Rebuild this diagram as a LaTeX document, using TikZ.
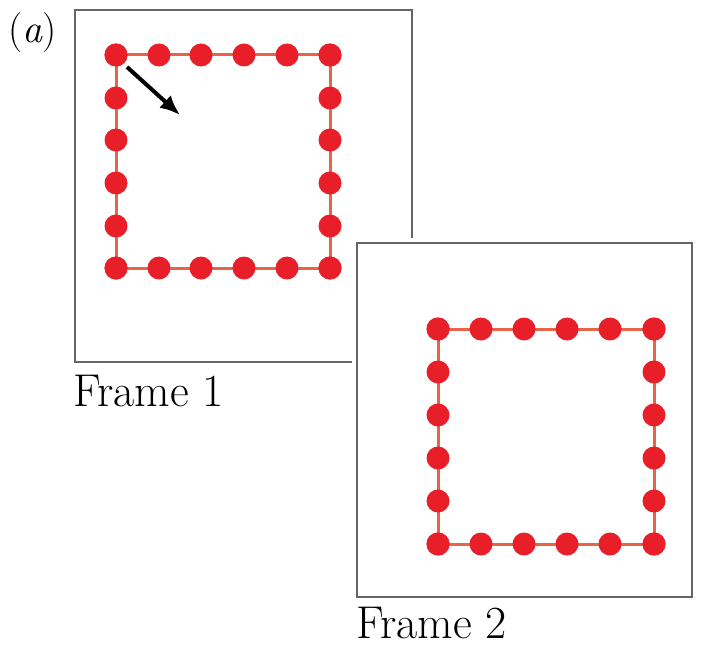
\documentclass[tikz,border=0pt]{standalone}
\usetikzlibrary{arrows.meta}
\begin{document}
\begin{tikzpicture}[x=1pt,y=-1pt,
  framebox/.style={draw=black!60, line width=1.3pt},
  dot/.style={circle, fill=dotred, inner sep=0pt, minimum size=23pt},
  link/.style={draw=linkred, line width=3pt},
  lbl/.style={anchor=base west, inner sep=0pt, font=\fontsize{46}{52}\selectfont}]
\definecolor{dotred}{RGB}{232,30,40}
\definecolor{linkred}{RGB}{232,100,70}
\useasboundingbox (0,0) rectangle (701,650);
\fill[white] (0,0) rectangle (701,650);
% Frame 1
\draw[framebox] (75,10) rectangle (412,362);
\node[lbl] (l1) at (73,406) {Frame 1};
\node[anchor=north west, inner sep=0pt, font=\fontsize{40}{46}\selectfont] (tag) at (8,12) {(\textit{a})};
\foreach \i/\x in {0/116,1/159,2/201,3/244,4/287,5/330}{
  \coordinate (at\i) at (\x,55);
  \coordinate (ab\i) at (\x,268);
}
\foreach \i/\y in {0/55,1/98,2/140,3/183,4/226,5/268}{
  \coordinate (al\i) at (116,\y);
  \coordinate (ar\i) at (330,\y);
}
\draw[link] (at0) -- (at5) -- (ab5) -- (ab0) -- cycle;
\foreach \i in {0,...,5}{
  \node[dot] (dt\i) at (at\i) {};
  \node[dot] (db\i) at (ab\i) {};
  \node[dot] (dl\i) at (al\i) {};
  \node[dot] (dr\i) at (ar\i) {};
}
\coordinate (arrS) at (127,67);
\coordinate (arrE) at (180,115);
\draw[line width=4pt, -{Latex[length=20pt,width=17pt]}] (arrS) -- (arrE);
% Frame 2
\fill[white] (352,238) rectangle (697,602);
\draw[framebox] (357,243) rectangle (692,597);
\node[lbl] (l2) at (356,638) {Frame 2};
\foreach \i/\x in {0/438,1/481,2/524,3/567,4/610,5/654}{
  \coordinate (bt\i) at (\x,329);
  \coordinate (bb\i) at (\x,544);
}
\foreach \i/\y in {0/329,1/372,2/415,3/458,4/501,5/544}{
  \coordinate (bl\i) at (438,\y);
  \coordinate (br\i) at (654,\y);
}
\draw[link] (bt0) -- (bt5) -- (bb5) -- (bb0) -- cycle;
\foreach \i in {0,...,5}{
  \node[dot] (et\i) at (bt\i) {};
  \node[dot] (eb\i) at (bb\i) {};
  \node[dot] (el\i) at (bl\i) {};
  \node[dot] (er\i) at (br\i) {};
}
\end{tikzpicture}
\end{document}
